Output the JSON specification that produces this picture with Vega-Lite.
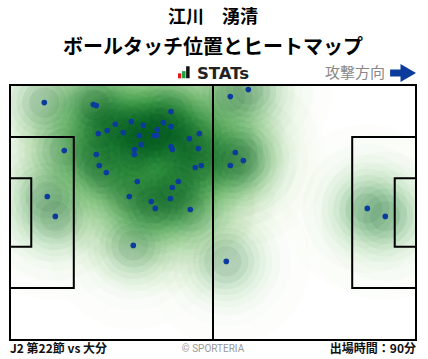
{
  "$schema": "https://vega.github.io/schema/vega-lite/v6.json",
  "width": 406,
  "height": 255,
  "autosize": {"type": "none"},
  "padding": {"top": 85, "left": 10, "right": 12, "bottom": 19},
  "background": "white",
  "config": {"view": {"stroke": null}, "font": "Noto Sans CJK JP"},
  "title": {
    "text": "江川　湧清",
    "subtitle": "ボールタッチ位置とヒートマップ",
    "anchor": "middle",
    "fontSize": 18,
    "font": "Noto Sans CJK JP",
    "fontWeight": "bold",
    "color": "#000",
    "subtitleFont": "Noto Sans CJK JP",
    "subtitleFontSize": 20,
    "subtitleFontWeight": "bold",
    "subtitleColor": "#000",
    "subtitlePadding": 11,
    "offset": 6
  },
  "datasets": {
    "touches": [
      {"x": 8.87, "y": 63.31}, {"x": 21.54, "y": 62.78}, {"x": 22.32, "y": 62.51}, {"x": 41.64, "y": 60.91},
      {"x": 27.23, "y": 57.53}, {"x": 31.37, "y": 58.25}, {"x": 34.47, "y": 57.27}, {"x": 39.65, "y": 57.98},
      {"x": 41.64, "y": 56.92}, {"x": 38.09, "y": 56.12}, {"x": 22.84, "y": 55.05}, {"x": 25.16, "y": 55.85},
      {"x": 29.3, "y": 55.32}, {"x": 33.44, "y": 54.52}, {"x": 37.24, "y": 54.52}, {"x": 37.94, "y": 54.52},
      {"x": 48.96, "y": 55.05}, {"x": 46.37, "y": 53.72}, {"x": 33.96, "y": 52.12}, {"x": 32.15, "y": 50.79},
      {"x": 32.15, "y": 49.46}, {"x": 41.64, "y": 51.59}, {"x": 41.97, "y": 50.79}, {"x": 48.7, "y": 51.06},
      {"x": 14.04, "y": 50.53}, {"x": 22.32, "y": 49.46}, {"x": 23.09, "y": 46.53}, {"x": 24.91, "y": 44.67},
      {"x": 49.47, "y": 46.53}, {"x": 47.92, "y": 46.0}, {"x": 32.92, "y": 42.27}, {"x": 43.53, "y": 42.27},
      {"x": 41.97, "y": 40.67}, {"x": 9.65, "y": 38.27}, {"x": 30.85, "y": 38.27}, {"x": 41.46, "y": 37.74},
      {"x": 36.54, "y": 36.94}, {"x": 37.58, "y": 35.08}, {"x": 46.63, "y": 34.81}, {"x": 11.72, "y": 32.95},
      {"x": 31.89, "y": 25.22}, {"x": 56.97, "y": 64.91}, {"x": 61.63, "y": 66.77}, {"x": 58.27, "y": 49.99},
      {"x": 60.34, "y": 47.86}, {"x": 56.97, "y": 46.53}, {"x": 92.41, "y": 35.08}, {"x": 97.06, "y": 32.95},
      {"x": 55.94, "y": 20.96}
    ],
    "pitch": [
      {"part": "field", "x": 0, "x2": 105, "y": 0, "y2": 68},
      {"part": "box-left", "x": 0, "x2": 16.5, "y": 13.84, "y2": 54.16},
      {"part": "box-right", "x": 88.5, "x2": 105, "y": 13.84, "y2": 54.16},
      {"part": "goal-left", "x": 0, "x2": 5.5, "y": 24.84, "y2": 43.16},
      {"part": "goal-right", "x": 99.5, "x2": 105, "y": 24.84, "y2": 43.16}
    ],
    "halfway": [{"x": 52.5, "y": 0, "y2": 68}],
    "logo": [
      {"bar": "red", "x": 43.45, "x2": 44.3, "y": 69.8, "y2": 71.1},
      {"bar": "green", "x": 44.5, "x2": 45.4, "y": 69.8, "y2": 71.7},
      {"bar": "black", "x": 45.55, "x2": 46.45, "y": 69.8, "y2": 73.0}
    ],
    "header": [{"label": "STATs", "x": 55.1, "y": 70.9}],
    "direction": [{"label": "攻撃方向", "x": 97.0, "y": 71.2}],
    "arrowShaft": [{"x": 98.3, "x2": 102.2, "y": 71.2}],
    "arrowHead": [{"x": 103.0, "y": 71.2}],
    "footerLeft": [{"label": "J2 第22節 vs 大分", "x": 0, "y": -2.4}],
    "footerRight": [{"label": "出場時間：90分", "x": 105, "y": -2.4}],
    "credit": [{"label": "© SPORTERIA", "x": 52.5, "y": -2.4}]
  },
  "layer": [
    {
      "data": {"name": "touches"},
      "mark": {"type": "circle", "size": 28300, "color": "#b5e0ad", "opacity": 0.03, "clip": true},
      "encoding": {
        "x": {"field": "x", "type": "quantitative", "scale": {"domain": [0, 105], "nice": false, "zero": false}, "axis": null},
        "y": {"field": "y", "type": "quantitative", "scale": {"domain": [0, 68], "nice": false, "zero": false}, "axis": null}
      }
    },
    {
      "data": {"name": "touches"},
      "mark": {"type": "circle", "size": 16740, "color": "#98d391", "opacity": 0.04, "clip": true},
      "encoding": {"x": {"field": "x", "type": "quantitative"}, "y": {"field": "y", "type": "quantitative"}}
    },
    {
      "data": {"name": "touches"},
      "mark": {"type": "circle", "size": 11690, "color": "#7cc47a", "opacity": 0.04, "clip": true},
      "encoding": {"x": {"field": "x", "type": "quantitative"}, "y": {"field": "y", "type": "quantitative"}}
    },
    {
      "data": {"name": "touches"},
      "mark": {"type": "circle", "size": 8495, "color": "#5fb563", "opacity": 0.045, "clip": true},
      "encoding": {"x": {"field": "x", "type": "quantitative"}, "y": {"field": "y", "type": "quantitative"}}
    },
    {
      "data": {"name": "touches"},
      "mark": {"type": "circle", "size": 6360, "color": "#3f9e4d", "opacity": 0.045, "clip": true},
      "encoding": {"x": {"field": "x", "type": "quantitative"}, "y": {"field": "y", "type": "quantitative"}}
    },
    {
      "data": {"name": "touches"},
      "mark": {"type": "circle", "size": 4540, "color": "#258a3c", "opacity": 0.05, "clip": true},
      "encoding": {"x": {"field": "x", "type": "quantitative"}, "y": {"field": "y", "type": "quantitative"}}
    },
    {
      "data": {"name": "touches"},
      "mark": {"type": "circle", "size": 3120, "color": "#12712d", "opacity": 0.06, "clip": true},
      "encoding": {"x": {"field": "x", "type": "quantitative"}, "y": {"field": "y", "type": "quantitative"}}
    },
    {
      "data": {"name": "touches"},
      "mark": {"type": "circle", "size": 1960, "color": "#045c22", "opacity": 0.065, "clip": true},
      "encoding": {"x": {"field": "x", "type": "quantitative"}, "y": {"field": "y", "type": "quantitative"}}
    },
    {
      "data": {"name": "touches"},
      "mark": {"type": "circle", "size": 910, "color": "#00471a", "opacity": 0.07, "clip": true},
      "encoding": {"x": {"field": "x", "type": "quantitative"}, "y": {"field": "y", "type": "quantitative"}}
    },
    {
      "data": {"name": "pitch"},
      "mark": {"type": "rect", "fill": null, "fillOpacity": 0, "stroke": "#000", "strokeWidth": 2},
      "encoding": {
        "x": {"field": "x", "type": "quantitative"},
        "x2": {"field": "x2"},
        "y": {"field": "y", "type": "quantitative"},
        "y2": {"field": "y2"}
      }
    },
    {
      "data": {"name": "halfway"},
      "mark": {"type": "rule", "stroke": "#000", "strokeWidth": 2},
      "encoding": {
        "x": {"field": "x", "type": "quantitative"},
        "y": {"field": "y", "type": "quantitative"},
        "y2": {"field": "y2"}
      }
    },
    {
      "data": {"name": "touches"},
      "mark": {"type": "circle", "size": 32, "color": "#0b3c9c", "opacity": 1},
      "encoding": {"x": {"field": "x", "type": "quantitative"}, "y": {"field": "y", "type": "quantitative"}}
    },
    {
      "data": {"name": "logo"},
      "mark": {"type": "rect"},
      "encoding": {
        "x": {"field": "x", "type": "quantitative"},
        "x2": {"field": "x2"},
        "y": {"field": "y", "type": "quantitative"},
        "y2": {"field": "y2"},
        "color": {"field": "bar", "type": "nominal", "scale": {"domain": ["red", "green", "black"], "range": ["#e8161c", "#18a23c", "#111111"]}, "legend": null}
      }
    },
    {
      "data": {"name": "header"},
      "mark": {"type": "text", "font": "DejaVu Sans", "fontWeight": "bold", "fontSize": 16.5, "color": "#222", "align": "center", "baseline": "middle"},
      "encoding": {"x": {"field": "x", "type": "quantitative"}, "y": {"field": "y", "type": "quantitative"}, "text": {"field": "label"}}
    },
    {
      "data": {"name": "direction"},
      "mark": {"type": "text", "fontSize": 15, "color": "#888", "align": "right", "baseline": "middle"},
      "encoding": {"x": {"field": "x", "type": "quantitative"}, "y": {"field": "y", "type": "quantitative"}, "text": {"field": "label"}}
    },
    {
      "data": {"name": "arrowShaft"},
      "mark": {"type": "rule", "stroke": "#0b3c9c", "strokeWidth": 7},
      "encoding": {"x": {"field": "x", "type": "quantitative"}, "x2": {"field": "x2"}, "y": {"field": "y", "type": "quantitative"}}
    },
    {
      "data": {"name": "arrowHead"},
      "mark": {"type": "point", "shape": "triangle-right", "filled": true, "size": 320, "color": "#0b3c9c", "opacity": 1},
      "encoding": {"x": {"field": "x", "type": "quantitative"}, "y": {"field": "y", "type": "quantitative"}}
    },
    {
      "data": {"name": "footerLeft"},
      "mark": {"type": "text", "fontSize": 12, "fontWeight": "bold", "color": "#111", "align": "left", "baseline": "middle"},
      "encoding": {"x": {"field": "x", "type": "quantitative"}, "y": {"field": "y", "type": "quantitative"}, "text": {"field": "label"}}
    },
    {
      "data": {"name": "footerRight"},
      "mark": {"type": "text", "fontSize": 12, "fontWeight": "bold", "color": "#111", "align": "right", "baseline": "middle"},
      "encoding": {"x": {"field": "x", "type": "quantitative"}, "y": {"field": "y", "type": "quantitative"}, "text": {"field": "label"}}
    },
    {
      "data": {"name": "credit"},
      "mark": {"type": "text", "fontSize": 10, "font": "Roboto", "color": "#999", "align": "center", "baseline": "middle"},
      "encoding": {"x": {"field": "x", "type": "quantitative"}, "y": {"field": "y", "type": "quantitative"}, "text": {"field": "label"}}
    }
  ]
}
